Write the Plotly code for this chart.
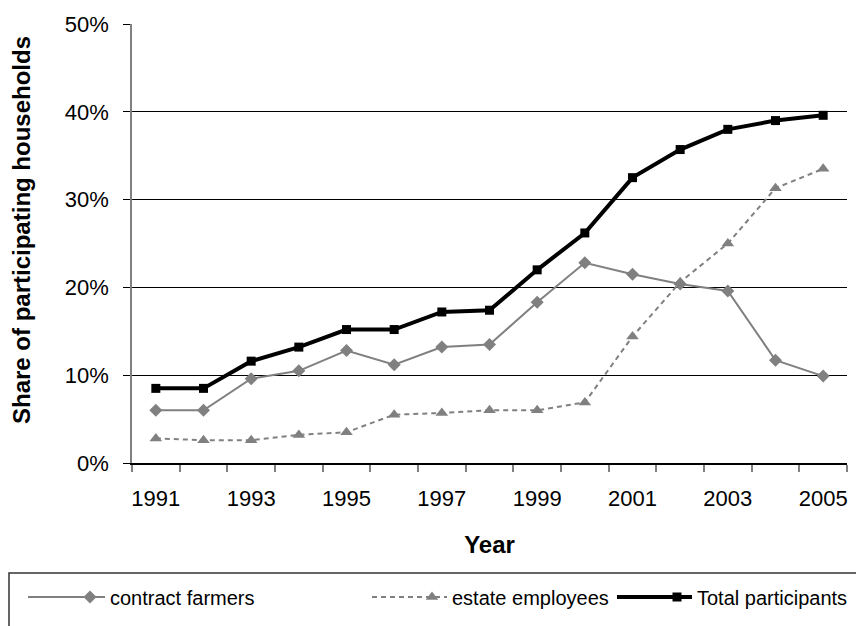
import plotly.graph_objects as go

years = list(range(1991, 2006))
contract_farmers = [0.060, 0.060, 0.096, 0.105, 0.128, 0.112, 0.132, 0.135, 0.183, 0.228,
                    0.215, 0.204, 0.196, 0.117, 0.099]
estate_employees = [0.028, 0.026, 0.026, 0.032, 0.035, 0.055, 0.057, 0.060, 0.060, 0.069,
                    0.144, 0.206, 0.250, 0.313, 0.335]
total_participants = [0.085, 0.085, 0.116, 0.132, 0.152, 0.152, 0.172, 0.174, 0.220, 0.262,
                      0.325, 0.357, 0.380, 0.390, 0.396]
x_tick_labels = [str(y) for y in range(1991, 2006, 2)]

FONT = "Liberation Sans, Arial, sans-serif"
GRAY = "#808080"

fig = go.Figure()
fig.add_trace(go.Scatter(
    x=years, y=contract_farmers, name="contract farmers", mode="lines+markers",
    line=dict(color=GRAY, width=2),
    marker=dict(symbol="diamond", size=10, color=GRAY),
    legend="legend"))
fig.add_trace(go.Scatter(
    x=years, y=estate_employees, name="estate employees", mode="lines+markers",
    line=dict(color=GRAY, width=2, dash="5px,4px"),
    marker=dict(symbol="triangle-up", size=11, color=GRAY),
    legend="legend2"))
fig.add_trace(go.Scatter(
    x=years, y=total_participants, name="Total participants", mode="lines+markers",
    line=dict(color="black", width=4),
    marker=dict(symbol="square", size=9, color="black"),
    legend="legend3"))

# the page body adds an 8px offset; work in screen pixels and convert
OFF = 8
W, H = 864, 626
PL, PR, PT, PB = 132, 847, 24, 463          # plot area in screen pixels
L, T = PL - OFF, PT - OFF
R = W - (PR - OFF)
B = H - (PB - OFF)
pw = PR - PL
ph = PB - PT

def px_x(px):
    return (px - PL) / pw

def px_y(py):
    return (PB - py) / ph

LEG_Y = 597
legend_common = dict(orientation="h", xanchor="left", yanchor="middle",
                     font=dict(family=FONT, size=20, color="black"),
                     bgcolor="rgba(0,0,0,0)", borderwidth=0, itemwidth=30)

def leg_x(text_start):
    return px_x(text_start - 40)

def seg(x0, x1, color, width, dash="solid"):
    return dict(type="line", xref="paper", yref="paper",
                x0=px_x(x0), x1=px_x(x1), y0=px_y(LEG_Y), y1=px_y(LEG_Y),
                line=dict(color=color, width=width, dash=dash))

CF_TXT, EE_TXT, TP_TXT = 110, 452, 697

fig.update_layout(
    width=W, height=H,
    margin=dict(l=L, r=R, t=T, b=B, autoexpand=False),
    plot_bgcolor="white", paper_bgcolor="white",
    font=dict(family=FONT, size=18, color="black"),
    showlegend=True,
    legend=dict(x=leg_x(CF_TXT), y=px_y(LEG_Y), **legend_common),
    legend2=dict(x=leg_x(EE_TXT), y=px_y(LEG_Y), **legend_common),
    legend3=dict(x=leg_x(TP_TXT), y=px_y(LEG_Y), **legend_common),
    xaxis=dict(
        range=[1990.5, 2005.5], tickmode="array",
        tickvals=list(range(1991, 2006, 2)), ticktext=x_tick_labels,
        ticks="", showgrid=False, zeroline=False,
        showline=True, linecolor="black", linewidth=1.5,
        ticklabelstandoff=15,
        tickfont=dict(family=FONT, size=22),
        minor=dict(tickmode="array", tickvals=[1990.5 + i for i in range(16)],
                   ticks="outside", ticklen=7, tickcolor=GRAY, tickwidth=1.5,
                   showgrid=False),
        title=dict(text="<b>Year</b>", font=dict(family=FONT, size=24), standoff=26),
        fixedrange=True),
    yaxis=dict(
        range=[0, 0.5], dtick=0.1, tick0=0, tickformat=".0%",
        showgrid=True, gridcolor="black", gridwidth=1,
        zeroline=False, showline=True, linecolor=GRAY, linewidth=1.5,
        ticks="outside", ticklen=7, tickcolor="black", tickwidth=1,
        ticklabelstandoff=10,
        tickfont=dict(family=FONT, size=22),
        fixedrange=True),
    annotations=[dict(text="<b>Share of participating households</b>",
                      xref="paper", yref="paper", x=px_x(21), y=px_y(230),
                      xanchor="center", yanchor="middle", textangle=-90,
                      showarrow=False, font=dict(family=FONT, size=24, color="black"))],
    shapes=[dict(type="rect", xref="paper", yref="paper",
                 x0=px_x(9), x1=px_x(890), y0=px_y(573), y1=px_y(700),
                 line=dict(color="#333333", width=1.5), fillcolor="rgba(0,0,0,0)",
                 layer="below"),
            seg(28, CF_TXT - 34, GRAY, 2),
            seg(EE_TXT - 80, EE_TXT - 34, GRAY, 2, "5px,4px"),
            seg(TP_TXT - 80, TP_TXT - 34, "black", 4)],
)

fig.write_html("out.html")
